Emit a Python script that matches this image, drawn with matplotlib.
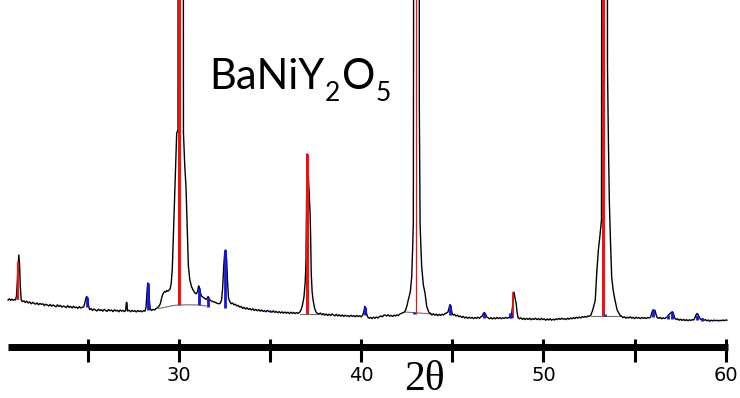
import matplotlib
matplotlib.use("Agg")
import matplotlib.pyplot as plt

# measured XRD pattern (2theta, counts)
pattern = [
    (20.63, 300), (20.70, 312), (20.77, 296), (20.84, 309), (20.91, 298), (20.98, 305), (21.04, 300),
    (21.09, 340), (21.13, 460), (21.18, 640), (21.22, 750), (21.26, 650), (21.30, 440), (21.35, 300),
    (21.42, 284), (21.50, 292), (21.58, 275), (21.66, 288), (21.74, 270), (21.82, 280), (21.90, 262),
    (21.98, 276), (22.06, 266), (22.14, 258), (22.22, 272), (22.30, 252), (22.38, 266), (22.46, 256),
    (22.54, 262), (22.62, 244), (22.70, 258), (22.78, 250), (22.86, 240), (22.94, 256), (23.02, 238),
    (23.10, 250), (23.18, 242), (23.26, 232), (23.34, 252), (23.42, 236), (23.50, 246), (23.58, 228),
    (23.66, 240), (23.74, 234), (23.82, 224), (23.90, 244), (23.98, 226), (24.06, 236), (24.14, 220),
    (24.22, 238), (24.30, 222), (24.38, 230), (24.46, 216), (24.54, 234), (24.62, 220), (24.70, 226),
    (24.78, 232), (24.84, 270), (24.90, 320), (24.95, 335), (25.00, 305), (25.05, 240), (25.10, 205),
    (25.18, 214), (25.26, 196), (25.34, 210), (25.42, 200), (25.50, 190), (25.58, 208), (25.66, 194),
    (25.74, 204), (25.82, 188), (25.90, 206), (25.98, 196), (26.06, 186), (26.14, 204), (26.22, 192),
    (26.30, 200), (26.38, 184), (26.46, 202), (26.54, 190), (26.62, 198), (26.70, 182), (26.78, 200),
    (26.86, 188), (26.94, 196), (27.02, 184), (27.08, 196), (27.12, 275), (27.15, 275), (27.18, 190),
    (27.26, 198), (27.34, 182), (27.42, 196), (27.50, 186), (27.58, 194), (27.66, 180), (27.74, 196),
    (27.82, 184), (27.90, 192), (27.98, 182), (28.06, 194), (28.14, 188),
    (28.20, 230), (28.25, 380), (28.29, 470), (28.33, 450), (28.38, 300), (28.43, 210), (28.50, 196),
    (28.58, 206), (28.66, 200), (28.74, 214), (28.82, 222), (28.90, 236), (28.98, 262), (29.04, 310),
    (29.10, 350), (29.16, 372), (29.22, 385), (29.28, 380), (29.34, 395), (29.40, 388), (29.46, 400),
    (29.52, 410), (29.58, 470), (29.64, 620), (29.69, 900), (29.74, 1150), (29.79, 1450), (29.84, 1750),
    (29.88, 1970), (29.95, 2000), (29.97, 9000), (30.23, 9000), (30.25, 1970), (30.32, 1650),
    (30.39, 1430), (30.45, 1050), (30.52, 640), (30.60, 500), (30.70, 430), (30.79, 395), (30.88, 370),
    (30.96, 362), (31.03, 390), (31.08, 440), (31.12, 430), (31.17, 380), (31.24, 340), (31.32, 328),
    (31.40, 318), (31.48, 306), (31.55, 318), (31.60, 335), (31.65, 320), (31.72, 296), (31.80, 290),
    (31.88, 282), (31.96, 280), (32.04, 272), (32.12, 266), (32.20, 262), (32.28, 270), (32.34, 300),
    (32.40, 420), (32.46, 640), (32.52, 790), (32.57, 800), (32.62, 700), (32.67, 480), (32.72, 320),
    (32.78, 290), (32.86, 262), (32.94, 270), (33.02, 252), (33.10, 258), (33.18, 240),
    (33.26, 246), (33.34, 228), (33.42, 236), (33.50, 216), (33.58, 226), (33.66, 210), (33.74, 222),
    (33.82, 206), (33.90, 214), (33.98, 200), (34.06, 212), (34.14, 196), (34.22, 206), (34.30, 192),
    (34.38, 204), (34.46, 188), (34.54, 200), (34.62, 186), (34.70, 194), (34.78, 182), (34.86, 196),
    (34.94, 184), (35.02, 190), (35.10, 178), (35.18, 192), (35.26, 176), (35.34, 186), (35.42, 172),
    (35.50, 184), (35.58, 170), (35.66, 182), (35.74, 168), (35.82, 180), (35.90, 168), (35.98, 178),
    (36.06, 164), (36.14, 178), (36.22, 166), (36.30, 176), (36.38, 164), (36.46, 174), (36.54, 166),
    (36.62, 178), (36.70, 200), (36.78, 250), (36.86, 330), (36.93, 480), (36.97, 680), (37.00, 1200),
    (37.03, 1760), (37.07, 1700), (37.11, 1500), (37.16, 1320), (37.20, 1150), (37.23, 900),
    (37.26, 560), (37.31, 380), (37.36, 300), (37.44, 220), (37.52, 180),
    (37.60, 166), (37.68, 158), (37.76, 170), (37.84, 152), (37.92, 164), (38.00, 148), (38.08, 160),
    (38.16, 146), (38.24, 158), (38.32, 144), (38.40, 160), (38.48, 150), (38.56, 142), (38.64, 156),
    (38.72, 140), (38.80, 152), (38.88, 138), (38.96, 150), (39.04, 136), (39.12, 148), (39.20, 138),
    (39.28, 144), (39.36, 134), (39.44, 148), (39.52, 136), (39.60, 144), (39.68, 132), (39.76, 146),
    (39.84, 134), (39.92, 142), (40.00, 132), (40.08, 148), (40.14, 180), (40.20, 235), (40.25, 215),
    (40.30, 160), (40.36, 130), (40.44, 118), (40.52, 126), (40.60, 114), (40.68, 128), (40.76, 118),
    (40.84, 130), (40.92, 120), (41.00, 134), (41.08, 140), (41.16, 132), (41.24, 148), (41.32, 150),
    (41.40, 140), (41.48, 152), (41.56, 138), (41.64, 146), (41.72, 136), (41.80, 148), (41.88, 140),
    (41.96, 152), (42.04, 144), (42.12, 160), (42.20, 166), (42.28, 172), (42.36, 178),
    (42.44, 200), (42.52, 250), (42.58, 300), (42.64, 340), (42.70, 390), (42.77, 530), (42.82, 800),
    (42.86, 1080), (42.91, 9000), (43.17, 9000), (43.19, 2200), (43.23, 1070), (43.28, 800),
    (43.32, 630), (43.41, 450), (43.50, 370), (43.59, 240), (43.70, 180), (43.80, 165), (43.88, 150),
    (43.96, 162), (44.04, 148), (44.12, 158), (44.20, 144), (44.28, 156), (44.36, 146), (44.44, 158),
    (44.52, 150), (44.60, 164), (44.68, 170), (44.76, 180), (44.82, 220), (44.87, 255), (44.92, 230),
    (44.98, 170), (45.04, 150), (45.12, 156), (45.20, 140), (45.28, 148), (45.36, 132), (45.44, 140),
    (45.52, 126), (45.60, 136), (45.68, 120), (45.76, 130), (45.84, 116), (45.92, 128), (46.00, 118),
    (46.08, 126), (46.16, 114), (46.24, 124), (46.32, 116), (46.40, 128), (46.48, 118), (46.56, 130),
    (46.64, 140), (46.70, 165), (46.76, 175), (46.82, 160), (46.88, 130), (46.96, 122), (47.04, 112),
    (47.12, 124), (47.20, 110), (47.28, 122), (47.36, 112), (47.44, 126), (47.52, 114), (47.60, 124),
    (47.68, 112), (47.76, 122), (47.84, 116), (47.92, 126), (48.00, 118), (48.08, 124), (48.16, 130),
    (48.24, 150), (48.30, 230), (48.34, 330), (48.38, 380), (48.42, 340), (48.46, 300), (48.50, 270),
    (48.55, 180), (48.60, 125), (48.68, 112), (48.76, 122), (48.84, 106), (48.92, 118), (49.00, 104),
    (49.08, 116), (49.16, 106), (49.24, 118), (49.32, 102), (49.40, 114), (49.48, 106), (49.56, 118),
    (49.64, 104), (49.72, 114), (49.80, 102), (49.88, 116), (49.96, 104), (50.04, 112), (50.12, 98),
    (50.20, 110), (50.28, 100), (50.36, 112), (50.44, 98), (50.52, 108), (50.60, 100), (50.68, 112),
    (50.76, 104), (50.84, 116), (50.92, 106), (51.00, 118), (51.08, 108), (51.16, 114), (51.24, 104),
    (51.32, 118), (51.40, 108), (51.48, 120), (51.56, 112), (51.64, 124), (51.72, 114), (51.80, 128),
    (51.88, 118), (51.96, 130), (52.04, 120), (52.12, 134), (52.20, 126), (52.28, 136), (52.36, 128),
    (52.44, 140), (52.52, 138), (52.60, 150), (52.68, 190), (52.76, 240), (52.84, 300), (52.92, 570),
    (53.01, 800), (53.10, 950), (53.18, 1100), (53.22, 9000), (53.49, 9000), (53.51, 2630),
    (53.56, 1900), (53.61, 1300), (53.68, 850), (53.74, 530), (53.82, 400), (53.92, 300), (54.04, 200),
    (54.19, 150), (54.28, 138), (54.36, 124), (54.44, 132), (54.52, 118), (54.60, 128), (54.68, 120),
    (54.76, 132), (54.84, 118), (54.92, 126), (55.00, 114), (55.08, 128), (55.16, 118), (55.24, 124),
    (55.32, 114), (55.40, 126), (55.48, 116), (55.56, 124), (55.64, 114), (55.72, 126), (55.80, 120),
    (55.88, 130), (55.95, 180), (56.00, 200), (56.06, 200), (56.12, 195), (56.18, 150), (56.24, 125),
    (56.32, 116), (56.40, 126), (56.48, 112), (56.56, 122), (56.64, 114), (56.72, 124), (56.80, 130),
    (56.86, 150), (56.92, 160), (56.98, 170), (57.04, 180), (57.08, 182), (57.13, 160), (57.20, 120),
    (57.28, 104), (57.36, 112), (57.44, 98), (57.52, 108), (57.60, 96), (57.68, 106), (57.76, 94),
    (57.84, 104), (57.92, 92), (58.00, 102), (58.08, 96), (58.16, 104), (58.24, 100), (58.30, 120),
    (58.36, 150), (58.42, 165), (58.48, 155), (58.54, 130), (58.60, 110), (58.66, 102), (58.72, 112),
    (58.80, 96), (58.88, 104), (58.96, 92), (59.04, 100), (59.12, 90), (59.20, 98), (59.28, 90),
    (59.36, 100), (59.44, 92), (59.52, 98), (59.60, 90), (59.68, 98), (59.76, 92), (59.84, 100),
    (59.92, 94), (60.00, 100), (60.06, 98),
]

# fitted background under the strong peaks
bg_theta = [[28.90, 29.30, 29.70, 30.00, 30.60, 31.10, 31.50],
            [36.62, 37.62], [42.40, 43.88], [52.60, 54.20]]
bg_counts = [[215, 230, 245, 250, 252, 250, 240],
             [165, 165], [180, 160], [140, 140]]

# BaNiY2O5 reference lines (red)
red_pos = [21.17, 30.02, 37.03, 42.99, 48.35, 53.28]
red_low = [300, 250, 160, 160, 120, 140]
red_high = [680, 9000, 1760, 9000, 380, 9000]
red_lw = [1.6, 2.2, 2.2, 0.9, 1.3, 2.2]

# second phase reference lines (blue)
blue_pos = [24.96, 28.28, 31.10, 31.61, 32.55, 35.00, 40.21, 42.92, 44.87, 46.75,
            48.16, 48.24, 53.40, 56.00, 56.85, 57.06, 58.40, 58.67, 59.10]
blue_low = [230, 200, 250, 230, 220, 180, 150, 160, 150, 120,
            120, 120, 140, 130, 110, 110, 100, 95, 90]
blue_high = [330, 470, 420, 320, 800, 195, 235, 180, 255, 170,
             170, 170, 165, 200, 150, 180, 150, 120, 105]

ticks = [25, 30, 35, 40, 45, 50, 55, 60]
tick_labels = ['', '30', '', '40', '', '50', '', '60']

# formula pieces: text, font size, vertical drop in inches
formula = [('BaNiY', 30, 0.0), ('2', 19, 0.12), ('O', 30, 0.0), ('5', 19, 0.12)]

fig = plt.figure(figsize=(7.4, 3.98), dpi=100)
ax = fig.add_axes([0, 0, 1, 1])
ax.set_xlim(20.187, 60.779)
ax.set_ylim(-680, 3300)

tt = [p[0] for p in pattern]
ii = [p[1] for p in pattern]
for bx, by in zip(bg_theta, bg_counts):
    ax.plot(bx, by, color='#707070', lw=0.8, zorder=1)
ax.plot(tt, ii, color='black', lw=1.0, zorder=2)
ax.vlines(red_pos, red_low, red_high, colors='#ee1111', linewidths=red_lw, zorder=3)
ax.vlines(blue_pos, blue_low, blue_high, colors='#1414e6', linewidths=2.0, zorder=3)

for s in ['top', 'left', 'right']:
    ax.spines[s].set_visible(False)
ax.spines['bottom'].set_position(('data', -165))
ax.spines['bottom'].set_linewidth(5)
ax.spines['bottom'].set_bounds(20.63, 60.12)
ax.spines['bottom'].set_capstyle('butt')
ax.set_yticks([])
ax.set_xticks(ticks, tick_labels)
ax.set_xticks(ticks, minor=True)
ax.xaxis.remove_overlapping_locs = False
ax.tick_params(axis='x', which='major', direction='out', length=10.8, width=2.2,
               pad=3.5, labelsize=14)
ax.tick_params(axis='x', which='minor', direction='in', length=5.8, width=2.2)
ax.patch.set_visible(False)

# formula label, built piece by piece so the subscripts sit low
r = fig.canvas.get_renderer()
x = 2.09
base = (398 - 89) / 100
for s, fs, dy in formula:
    t = fig.text(x, base - dy, s, fontsize=fs, family='Lato', va='baseline',
                 ha='left', transform=fig.dpi_scale_trans)
    x = t.get_window_extent(r).x1 / fig.dpi + 0.01

fig.text(424.5 / 740, 1 - 390 / 398, '2θ', family='Liberation Serif',
         fontsize=30, va='baseline', ha='center')

fig.savefig('out.png', dpi=100)
